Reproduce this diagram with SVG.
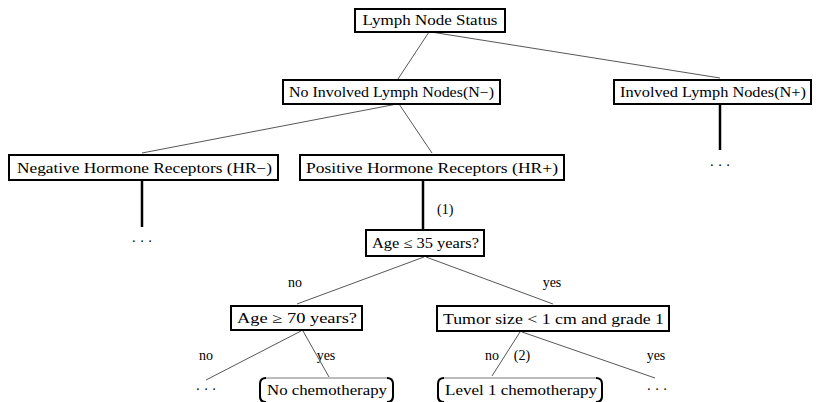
<svg xmlns="http://www.w3.org/2000/svg" width="822" height="402" viewBox="0 0 822 402">
<style>
text{font-family:"Liberation Serif","DejaVu Serif",serif;font-size:14px;fill:#000}
.box{fill:#fff;stroke:#000;stroke-width:2}
.leaf{fill:#fff;stroke:#555;stroke-width:0.8}
.br{fill:none;stroke:#000;stroke-width:2}
.edge{stroke:#444;stroke-width:0.9;fill:none}
.thick{stroke:#000;stroke-width:2.5;fill:none}
.mid{text-anchor:middle}
</style>
<rect width="822" height="402" fill="#fff"/>
<g id="connectors">
<line class="edge" x1="429" y1="32" x2="398" y2="79"/>
<line class="edge" x1="431" y1="32" x2="720" y2="78"/>
<line class="edge" x1="397" y1="104" x2="142" y2="153"/>
<line class="edge" x1="399" y1="104" x2="432" y2="153"/>
<line class="thick" x1="142" y1="181" x2="142" y2="227"/>
<line class="thick" x1="423" y1="181" x2="423" y2="229"/>
<line class="thick" x1="720" y1="104" x2="720" y2="150"/>
<line class="edge" x1="424" y1="257" x2="297" y2="304"/>
<line class="edge" x1="426" y1="257" x2="553" y2="304"/>
<line class="edge" x1="301" y1="331" x2="206" y2="380"/>
<line class="edge" x1="303" y1="331" x2="329" y2="377"/>
<line class="edge" x1="520" y1="332" x2="492" y2="376"/>
<line class="edge" x1="522" y1="332" x2="655" y2="378"/>
<text x="437" y="214">(1)</text>
<text x="295" y="287" class="mid">no</text>
<text x="552" y="287" class="mid">yes</text>
<text x="206" y="360" class="mid">no</text>
<text x="326" y="360" class="mid">yes</text>
<text x="492" y="360" class="mid">no</text>
<text x="522" y="360" class="mid">(2)</text>
<text x="656" y="360" class="mid">yes</text>
</g>
<g id="n-root">
<rect class="box" x="355" y="9" width="150" height="23"/>
<text x="430" y="25" class="mid" textLength="135" lengthAdjust="spacingAndGlyphs">Lymph Node Status</text>
</g>
<g id="n-nminus">
<rect class="box" x="283" y="80" width="217" height="24"/>
<text x="391.5" y="97" class="mid" textLength="205" lengthAdjust="spacingAndGlyphs">No Involved Lymph Nodes(N−)</text>
</g>
<g id="n-nplus">
<rect class="box" x="614" y="80" width="197" height="24"/>
<text x="713" y="97" class="mid" textLength="186" lengthAdjust="spacingAndGlyphs">Involved Lymph Nodes(N+)</text>
</g>
<g id="n-nplus-more">
<text x="720" y="170" class="mid">· · ·</text>
</g>
<g id="n-hrminus">
<rect class="box" x="9" y="155" width="269" height="25"/>
<text x="144.5" y="173" class="mid" textLength="255" lengthAdjust="spacingAndGlyphs">Negative Hormone Receptors (HR−)</text>
</g>
<g id="n-hrminus-more">
<text x="142" y="246" class="mid">· · ·</text>
</g>
<g id="n-hrplus">
<rect class="box" x="300" y="155" width="264" height="25"/>
<text x="432" y="173" class="mid" textLength="252" lengthAdjust="spacingAndGlyphs">Positive Hormone Receptors (HR+)</text>
</g>
<g id="n-age35">
<rect class="box" x="366" y="230" width="118" height="26"/>
<text x="425.5" y="248" class="mid" textLength="107" lengthAdjust="spacingAndGlyphs">Age ≤ 35 years?</text>
</g>
<g id="n-age70">
<rect class="box" x="231" y="306" width="131" height="24"/>
<text x="297" y="323" class="mid" textLength="120" lengthAdjust="spacingAndGlyphs">Age ≥ 70 years?</text>
</g>
<g id="n-tumor">
<rect class="box" x="437" y="306" width="232" height="25"/>
<text x="553.5" y="324" class="mid" textLength="221" lengthAdjust="spacingAndGlyphs">Tumor size &lt; 1 cm and grade 1</text>
</g>
<g id="n-age70-more">
<text x="206" y="394" class="mid">· · ·</text>
</g>
<g id="n-nochemo">
<rect class="leaf" x="260" y="378" width="133" height="26" rx="6"/>
<path class="br" d="M266 378 Q260 378 260 384 L260 396 Q260 402 266 402 M387 378 Q393 378 393 384 L393 396 Q393 402 387 402"/>
<text x="327" y="395" class="mid" textLength="120" lengthAdjust="spacingAndGlyphs">No chemotherapy</text>
</g>
<g id="n-level1">
<rect class="leaf" x="438" y="378" width="164" height="26" rx="6"/>
<path class="br" d="M444 378 Q438 378 438 384 L438 396 Q438 402 444 402 M596 378 Q602 378 602 384 L602 396 Q602 402 596 402"/>
<text x="521" y="395" class="mid" textLength="152" lengthAdjust="spacingAndGlyphs">Level 1 chemotherapy</text>
</g>
<g id="n-tumor-more">
<text x="657" y="394" class="mid">· · ·</text>
</g>
</svg>
